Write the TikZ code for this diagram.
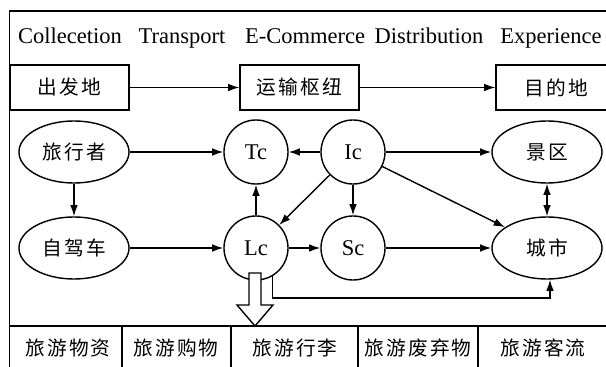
\documentclass[tikz,border=0pt]{standalone}
\usepackage{fontspec}
\setmainfont{Liberation Serif}
\newfontfamily\cjk[LetterSpace=11]{Noto Sans CJK SC}
\usetikzlibrary{shapes.geometric,arrows.meta}

\tikzset{
  place/.style={draw, rectangle, minimum width=2.975cm, minimum height=1.125cm, inner sep=0pt, font=\cjk\fontsize{14}{16}\selectfont},
  agent/.style={draw, ellipse, minimum width=2.75cm, minimum height=1.55cm, inner sep=0pt, font=\cjk\fontsize{14}{16}\selectfont},
  center/.style={draw, circle, minimum size=1.6cm, inner sep=0pt, font=\fontsize{16}{18}\selectfont},
  stage/.style={anchor=base, font=\fontsize{16}{18}\selectfont},
  goods/.style={font=\cjk\fontsize{14}{16}\selectfont},
}

\begin{document}
\begin{tikzpicture}[x=0.025cm, y=-0.025cm, line width=1pt, >={Latex[length=8pt,width=5.5pt]}]
	\useasboundingbox (0,0) rectangle (606,367);
	\clip (0,0) rectangle (606,367);
	%frame and bottom row
	\draw (9.5,372) |- (615,11);
	\draw (9.5,326) -- (615,326);
	\foreach \x in {122,231,358,478}
		\draw (\x,326) -- (\x,372);
	%stages
	\node[stage] (coll) at (70,44) {Collecetion};
	\node[stage] (trans) at (182,44) {Transport};
	\node[stage] (ecom) at (305,44) {E-Commerce};
	\node[stage] (dist) at (429,44) {Distribution};
	\node[stage] (expe) at (551,44) {Experience};
	%places
	\node[place] (orig) at (69.5,87.5) {出发地};
	\node[place] (hub) at (299.5,87.5) {运输枢纽};
	\node[place, minimum width=3cm] (dest) at (556,87.5) {目的地};
	\draw [->] (orig)--(hub);
	\draw [->] (hub)--(dest);
	%network
	\node[agent] (trav) at (74,152) {旅行者};
	\node[agent] (car) at (74,248) {自驾车};
	\node[center] (tc) at (256,152) {Tc};
	\node[center] (lc) at (256,248) {Lc};
	\node[center] (ic) at (353,152) {Ic};
	\node[center] (sc) at (353,248) {Sc};
	\node[agent] (spot) at (547,152) {景区};
	\node[agent] (city) at (547,248) {城市};
	\draw [->] (trav)--(tc);
	\draw [->] (trav)--(car);
	\draw [->] (car)--(lc);
	\draw [->] (lc)--(tc);
	\draw [->] (ic)--(tc);
	\draw [->] (ic)--(lc);
	\draw [->] (ic)--(sc);
	\draw [->] (ic)--(spot);
	\draw [->] (ic)--(city);
	\draw [->] (lc)--(sc);
	\draw [->] (sc)--(city);
	\draw [<->] (spot)--(city);
	\coordinate (bend) at (550,298);
	\draw [->] (lc.-60) |- (bend) -- (bend |- city.south);
	%hollow arrow
	\draw [fill=white] (249,273) -- (249,305) -- (237,305) -- (255,326) -- (273,305) -- (261,305) -- (261,273) -- cycle;
	%goods
	\node[goods] (mat) at (68,348) {旅游物资};
	\node[goods] (shop) at (176,348) {旅游购物};
	\node[goods] (lug) at (295,348) {旅游行李};
	\node[goods] (waste) at (418,348) {旅游废弃物};
	\node[goods] (flow) at (543,348) {旅游客流};
\end{tikzpicture}
\end{document}
